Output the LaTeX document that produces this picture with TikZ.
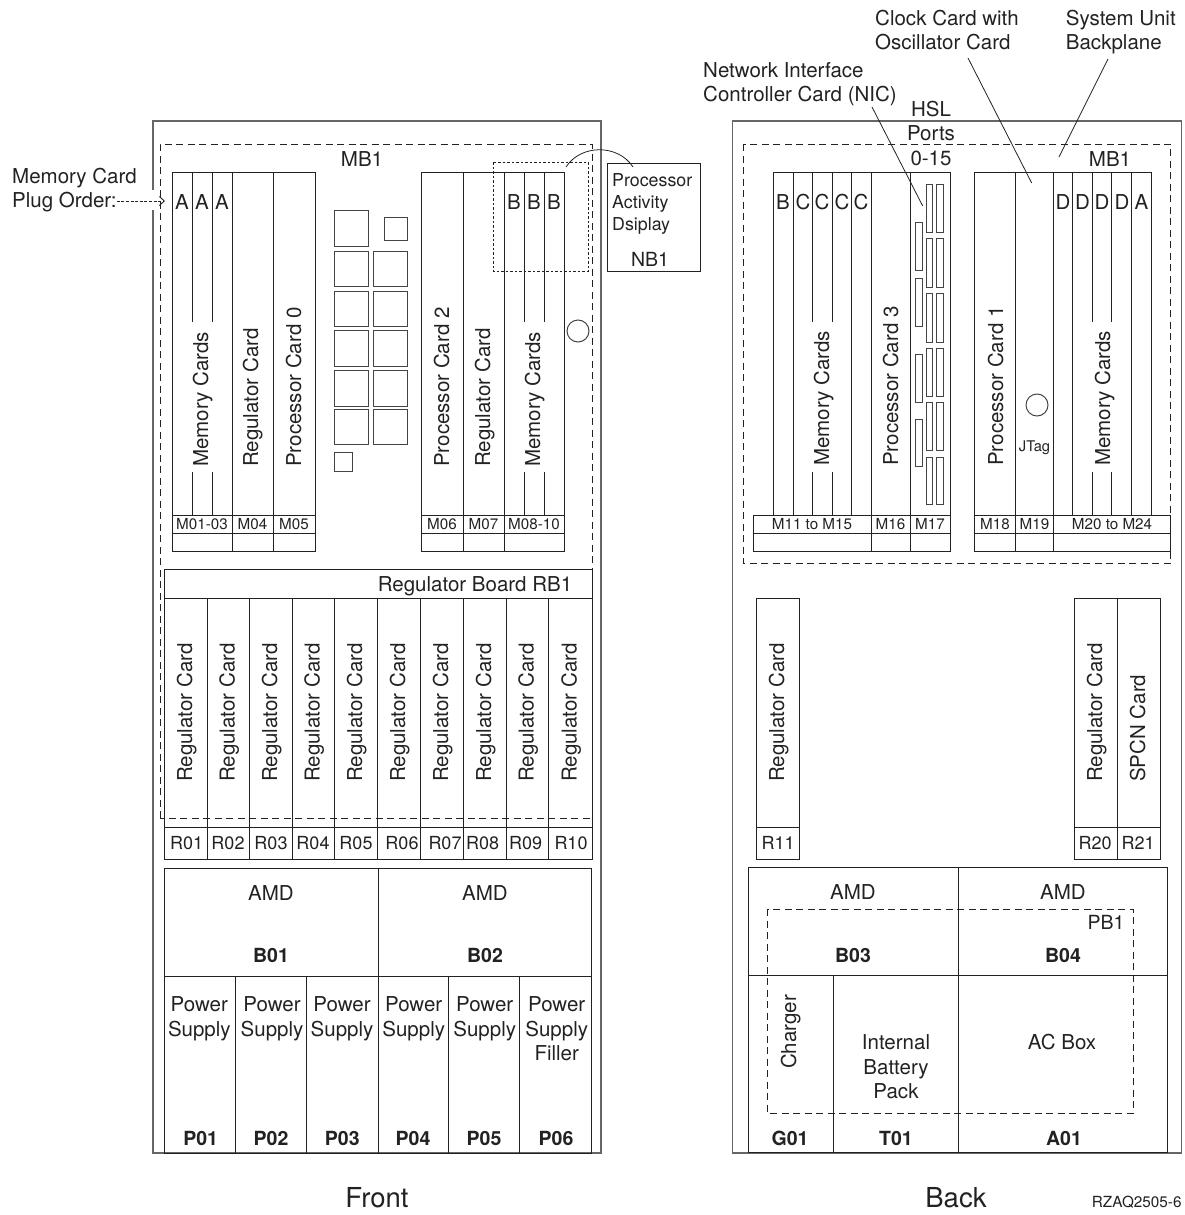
\documentclass[tikz,border=0pt]{standalone}
\usepackage{fontspec}
\setmainfont{TeX Gyre Heros}
\usepackage{tikz}
\usetikzlibrary{arrows.meta,positioning}
\definecolor{InkBlack}{HTML}{222222}
\definecolor{FrameGray}{HTML}{666666}
\definecolor{ChipGray}{HTML}{444444}

\begin{document}
\begin{tikzpicture}[
  x=1pt,y=-1pt,
  every node/.style={inner sep=0pt,text=InkBlack,font=\fontsize{20.5}{24.6}\selectfont,align=center},
  frame/.style={draw=FrameGray,line width=1.3pt},
  card/.style={draw=InkBlack,line width=1pt},
  chip/.style={draw=ChipGray,line width=1pt},
  board/.style={draw=InkBlack,line width=.9pt,dash pattern=on 7pt off 4.5pt},
  dotbox/.style={draw=InkBlack,line width=.8pt,dash pattern=on 2.5pt off 2pt},
  leader/.style={draw=InkBlack,line width=.8pt},
  vtext/.style={rotate=90,anchor=base west},
  slot/.style={font=\fontsize{15.2}{18}\selectfont},
  rslot/.style={font=\fontsize{18}{22}\selectfont},
  fru/.style={font=\fontsize{19.5}{23}\selectfont\bfseries},
  side/.style={font=\fontsize{27.5}{32}\selectfont},
  plugarrow/.style={-{Straight Barb[length=5pt,width=9pt]},draw=InkBlack,line width=.9pt,dash pattern=on 3pt off 1.6pt}
]
\useasboundingbox (0,0) rectangle (1184,1215);

% front unit
\draw[frame] (153,190) -- (153,121) -- (601,121) -- (601,1153) -- (153,1153) -- (153,210);
\draw[board] (160,818) -- (160,144) -- (592,144) -- (592,818) -- cycle;
\node (mb1f) at (362,159) {MB1};
\node[anchor=base west] (memcard) at (12,183.5) {Memory Card};
\node[anchor=base west] (plugorder) at (12,207.5) {Plug Order:};
\coordinate (plugtip) at (165,201);
\draw[plugarrow] (plugorder.east |- plugtip) -- (plugtip);

% front memory and processor slots
\draw[card] (172,172) rectangle (315,551);
\draw[card] (421,172) rectangle (564,551);
\foreach \x in {232,273,463,504} \draw[card] (\x,172) -- (\x,551);
\foreach \x in {192,212,524,544} {
  \draw[card] (\x,172) -- (\x,322);
  \draw[card] (\x,472) -- (\x,515);
}
\foreach \y in {515,533} {
  \draw[card] (172,\y) -- (315,\y);
  \draw[card] (421,\y) -- (564,\y);
}
\foreach \x in {182,202,222} \node (a\x) at (\x,202) {A};
\foreach \x in {514,534,554} \node (b\x) at (\x,202) {B};
\node[vtext] (memf1) at (208,467) {Memory Cards};
\node[vtext] (regf1) at (258,467) {Regulator Card};
\node[vtext] (proc0) at (301,467) {Processor Card 0};
\node[vtext] (proc2) at (449,467) {Processor Card 2};
\node[vtext] (regf2) at (490,467) {Regulator Card};
\node[vtext] (memf2) at (540,467) {Memory Cards};
\node[slot] (m0103) at (202,524) {M01-03};
\node[slot] (m04) at (252.5,524) {M04};
\node[slot] (m05) at (294,524) {M05};
\node[slot] (m06) at (442,524) {M06};
\node[slot] (m07) at (483.5,524) {M07};
\node[slot] (m0810) at (534,524) {M08-10};

% modules between the slots
\foreach \t/\b in {210/246,251/286,291/326,330/366,370/406,409/444} \draw[chip] (334,\t) rectangle (368,\b);
\foreach \t/\b in {251/286,291/326,330/366,370/406,409/444} \draw[chip] (373,\t) rectangle (407,\b);
\draw[chip] (384,217) rectangle (407,240);
\draw[chip] (334,452) rectangle (352,471);
\draw[chip] (578,331) circle (11);

% activity display
\draw[dotbox] (493,162) rectangle (588,271);
\draw[card] (607,163) rectangle (700,271);
\node[anchor=north west,align=left,font=\fontsize{17.8}{22}\selectfont] (activity) at (612,173) {Processor\\Activity\\Dsiplay};
\node[font=\fontsize{19.5}{23}\selectfont] (nb1) at (650,259) {NB1};
\coordinate (nbfrom) at (566,167);
\coordinate (nbto) at (633,167);
\draw[leader] (nbfrom) .. controls (581,144) and (618,144) .. (nbto);

% regulator board
\draw[card] (164,569) rectangle (592,859);
\draw[card] (164,598) -- (592,598);
\draw[card] (164,827) -- (592,827);
\node[anchor=base] (rb1) at (475,591) {Regulator Board RB1};
\foreach \x in {207,249.5,292,334.7,377,420.7,463,506,548.7} \draw[card] (\x,598) -- (\x,859);
\foreach \x in {192,234.5,277,319.5,362,405,448,491,533.5,576.5} \node[vtext] (rc\x) at (\x,782) {Regulator Card};
\foreach \x/\n in {186.7/R01,228/R02,271/R03,313/R04,356/R05,402/R06,445/R07,482.7/R08,525.7/R09,571/R10} \node[rslot] (\n) at (\x,843) {\n};

% front power
\draw[card] (164,868) rectangle (591.5,1153);
\draw[card] (164,976) -- (591.5,976);
\draw[card] (378,868) -- (378,1153);
\foreach \x in {235.7,306.7,448.7,519.3} \draw[card] (\x,976) -- (\x,1153);
\node (amd1) at (271,893) {AMD};
\node (amd2) at (485,893) {AMD};
\node[fru] (b01) at (271,955) {B01};
\node[fru] (b02) at (485,955) {B02};
\foreach \x/\n in {199.3/s1,272/s2,342/s3,413.7/s4,484.7/s5} \node[anchor=north] (\n) at (\x,996.6) {Power\\Supply};
\node[anchor=north] (s6) at (556.7,996.6) {Power\\Supply\\Filler};
\foreach \x/\n in {200.7/P01,271/P02,342.3/P03,413/P04,484/P05,556/P06} \node[fru] (\n) at (\x,1138) {\n};
\node[side] (front) at (377,1198) {Front};

% back unit
\draw[frame] (732.7,121) rectangle (1181.7,1153);
\draw[board] (743,144) rectangle (1170.7,563);
\node (mb1b) at (1110,159) {MB1};
\node[anchor=north] (hsl) at (931,100.6) {HSL\\Ports\\0-15};
\node[anchor=north west,align=left] (clock) at (875,9.6) {Clock Card with\\Oscillator Card};
\node[anchor=north west,align=left] (backplane) at (1065.7,9.6) {System Unit\\Backplane};
\node[anchor=north west,align=left] (nic) at (703,62) {Network Interface\\Controller Card (NIC)};
\coordinate (clockfrom) at (968,58);
\coordinate (clockto) at (1031.7,183);
\coordinate (planefrom) at (1108,59);
\coordinate (planeto) at (1059,157);
\coordinate (nicfrom) at (872,107);
\coordinate (nicto) at (922.7,206);
\draw[leader] (clockfrom) -- (clockto);
\draw[leader] (planefrom) -- (planeto);
\draw[leader] (nicfrom) -- (nicto);

% back memory and processor slots
\draw[card] (773,172.8) rectangle (950,515);
\draw[card] (974.3,172.8) rectangle (1151,515);
\draw[card] (753,515) rectangle (950,551);
\draw[card] (974.3,515) rectangle (1170.7,551);
\draw[card] (753,533) -- (950,533);
\draw[card] (974.3,533) -- (1170.7,533);
\foreach \x in {871,910,1015.7,1053} \draw[card] (\x,172.8) -- (\x,551);
\foreach \x in {793,851.7,1072.7,1131.7} \draw[card] (\x,172.8) -- (\x,515);
\foreach \x in {812.7,832,1092,1111.7} {
  \draw[card] (\x,172.8) -- (\x,322);
  \draw[card] (\x,472) -- (\x,515);
}
\foreach \x/\n/\t in {783/l1/B,803/l2/C,822/l3/C,842/l4/C,861/l5/C,1063/r1/D,1082.5/r2/D,1102/r3/D,1122/r4/D,1141.5/r5/A} \node (\n) at (\x,201.6) {\t};
\node[vtext] (memb1) at (829,466) {Memory Cards};
\node[vtext] (proc3) at (898,466) {Processor Card 3};
\node[vtext] (proc1) at (1003,466) {Processor Card 1};
\node[vtext] (memb2) at (1110,466) {Memory Cards};
\node[slot] (m1115) at (812,524) {M11 to M15};
\node[slot] (m16) at (890.5,524) {M16};
\node[slot] (m17) at (930,524) {M17};
\node[slot] (m18) at (995,524) {M18};
\node[slot] (m19) at (1034.5,524) {M19};
\node[slot] (m2024) at (1112,524) {M20 to M24};
\node[font=\fontsize{14.7}{18}\selectfont] (jtag) at (1034.5,447.6) {JTag};
\draw[chip] (1037,405) circle (11);

% hsl ports
\foreach \t/\b in {184/232,238/287,293/342,348/396,402/450,457/504} {
  \draw[chip] (926.7,\t) rectangle (932.7,\b);
  \draw[chip] (936.7,\t) rectangle (943.7,\b);
}
\foreach \t/\b in {222/270,278/326,354/402,419/466} \draw[chip] (915.7,\t) rectangle (922.3,\b);

% back regulators
\draw[card] (756,598) rectangle (799,859);
\draw[card] (1074,598) rectangle (1160,859);
\draw[card] (1117,598) -- (1117,859);
\draw[card] (756,827) -- (799,827);
\draw[card] (1074,827) -- (1160,827);
\node[vtext] (rc11) at (784,782) {Regulator Card};
\node[vtext] (rc20) at (1102,782) {Regulator Card};
\node[vtext] (spcn) at (1145,782) {SPCN Card};
\node[rslot] (r11) at (778,843) {R11};
\node[rslot] (r20) at (1095,843) {R20};
\node[rslot] (r21) at (1138,843) {R21};

% back power
\draw[card] (748,867.7) rectangle (1167,1152.7);
\draw[card] (748,975) -- (1167,975);
\draw[card] (958.7,867.7) -- (958.7,1152.7);
\draw[card] (833.7,975) -- (833.7,1152.7);
\draw[board] (767,909) rectangle (1133,1113);
\node (amd3) at (853,892) {AMD};
\node (amd4) at (1063,892) {AMD};
\node[font=\fontsize{19.5}{23}\selectfont] (pb1) at (1106,922) {PB1};
\node[fru] (b03) at (853,955) {B03};
\node[fru] (b04) at (1063,955) {B04};
\node[vtext] (charger) at (796,1069) {Charger};
\node[anchor=north] (battery) at (896,1034.6) {Internal\\Battery\\Pack};
\node (acbox) at (1062,1042) {AC Box};
\node[fru] (g01) at (790,1138) {G01};
\node[fru] (t01) at (896,1138) {T01};
\node[fru] (a01) at (1064,1138) {A01};
\node[side] (back) at (956,1198) {Back};
\node[font=\fontsize{15.3}{18}\selectfont] (figid) at (1136.7,1202) {RZAQ2505-6};
\end{tikzpicture}
\end{document}
